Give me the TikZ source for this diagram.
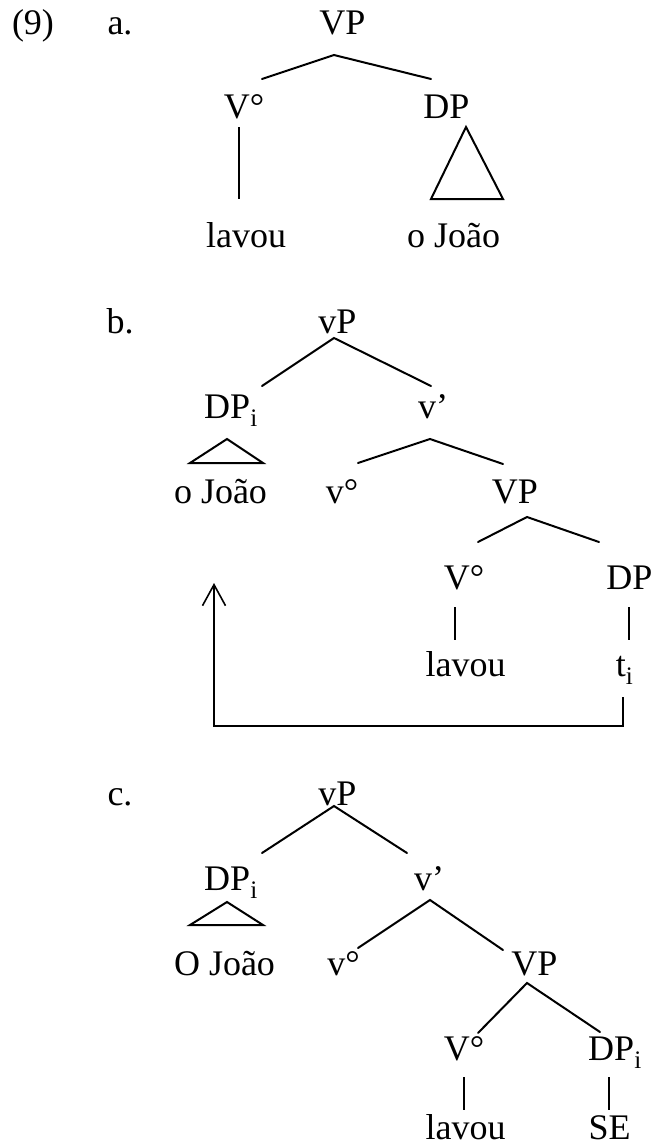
\documentclass[tikz,border=0pt]{standalone}
\usepackage{fontspec}
\setmainfont{Liberation Serif}
\usetikzlibrary{arrows.meta}
\begin{document}
\begin{tikzpicture}[x=1pt, y=-1pt,
  lbl/.style={anchor=base, inner sep=0pt, font=\fontsize{36}{40}\selectfont},
  branch/.style={line width=2pt, line cap=round},
  stem/.style={line width=1.4pt},
  roof/.style={line width=2pt, line join=miter},
  movearrow/.style={line width=1.6pt, -{Straight Barb[length=21pt, width=23pt, line width=1.6pt]}}]
\useasboundingbox (0,0) rectangle (653,1148);

% ---------- (9) a. ----------
\node[lbl] (ex) at (33,35) {(9)};
\node[lbl] (la) at (120,35) {a.};
\node[lbl] (aVP) at (342.5,35) {VP};
\node[lbl] (aV) at (244,118) {V°};
\node[lbl] (aDP) at (446.5,118) {DP};
\node[lbl] (aVw) at (246,247) {lavou};
\node[lbl] (aDPw) at (453.5,247) {o João};

\coordinate (aVPb) at (334,55);
\coordinate (aVt) at (262,79);
\coordinate (aDPt) at (431,79);
\draw[branch] (aVt) -- (aVPb) -- (aDPt);
\coordinate (aVs) at (239,127);
\coordinate (aVe) at (239,199);
\draw[stem] (aVs) -- (aVe);
\coordinate (aT1) at (466,127);
\coordinate (aT2) at (431,199);
\coordinate (aT3) at (503,199);
\draw[roof] (aT1) -- (aT2) -- (aT3) -- cycle;

% ---------- b. ----------
\node[lbl] (lb) at (120,333) {b.};
\node[lbl] (bvP) at (337.5,333) {vP};
\node[lbl] (bDP) at (231,418) {DP\textsubscript{i}};
\node[lbl] (bvbar) at (433,418) {v’};
\node[lbl] (bDPw) at (220.5,503) {o João};
\node[lbl] (bv) at (342,503) {v°};
\node[lbl] (bVP) at (515,503) {VP};
\node[lbl] (bV) at (464,589) {V°};
\node[lbl] (bDP2) at (629.5,589) {DP};
\node[lbl] (bVw) at (465.5,676) {lavou};
\node[lbl] (bt) at (624.5,676) {t\textsubscript{i}};

\coordinate (bvPb) at (334,338);
\coordinate (bDPt) at (262,386);
\coordinate (bvbart) at (431,386);
\draw[branch] (bDPt) -- (bvPb) -- (bvbart);
\coordinate (bT1) at (227,439);
\coordinate (bT2) at (190,463);
\coordinate (bT3) at (263,463);
\draw[roof] (bT1) -- (bT2) -- (bT3) -- cycle;
\coordinate (bvbarb) at (430,439);
\coordinate (bvt) at (358,463);
\coordinate (bVPt) at (503,464);
\draw[branch] (bvt) -- (bvbarb) -- (bVPt);
\coordinate (bVPb) at (527,517);
\coordinate (bVt) at (478,542);
\coordinate (bDP2t) at (599,542);
\draw[branch] (bVt) -- (bVPb) -- (bDP2t);
\coordinate (bVs) at (455,607);
\coordinate (bVe) at (455,640);
\draw[stem] (bVs) -- (bVe);
\coordinate (bDs) at (629,607);
\coordinate (bDe) at (629,640);
\draw[stem] (bDs) -- (bDe);
% movement of the object to the specifier of vP
\coordinate (mvA) at (623,697);
\coordinate (mvB) at (623,726);
\coordinate (mvC) at (214,726);
\coordinate (mvD) at (214,583);
\draw[movearrow] (mvA) -- (mvB) -- (mvC) -- (mvD);

% ---------- c. ----------
\node[lbl] (lc) at (120,805) {c.};
\node[lbl] (cvP) at (337.5,805) {vP};
\node[lbl] (cDP) at (231,890) {DP\textsubscript{i}};
\node[lbl] (cvbar) at (429,890) {v’};
\node[lbl] (cDPw) at (224.5,975) {O João};
\node[lbl] (cv) at (343.5,975) {v°};
\node[lbl] (cVP) at (534.5,975) {VP};
\node[lbl] (cV) at (464,1060) {V°};
\node[lbl] (cDP2) at (615,1060) {DP\textsubscript{i}};
\node[lbl] (cVw) at (465.5,1139) {lavou};
\node[lbl] (cSE) at (609.5,1139) {SE};

\coordinate (cvPb) at (334,806);
\coordinate (cDPt) at (262,853);
\coordinate (cvbart) at (407,853);
\draw[branch] (cDPt) -- (cvPb) -- (cvbart);
\coordinate (cT1) at (227,902);
\coordinate (cT2) at (190,925);
\coordinate (cT3) at (263,925);
\draw[roof] (cT1) -- (cT2) -- (cT3) -- cycle;
\coordinate (cvbarb) at (430,900);
\coordinate (cvt) at (358,948);
\coordinate (cVPt) at (503,950);
\draw[branch] (cvt) -- (cvbarb) -- (cVPt);
\coordinate (cVPb) at (527,983);
\coordinate (cVt) at (478,1033);
\coordinate (cDP2t) at (600,1032);
\draw[branch] (cVt) -- (cVPb) -- (cDP2t);
\coordinate (cVs) at (464,1077);
\coordinate (cVe) at (464,1110);
\draw[stem] (cVs) -- (cVe);
\coordinate (cDs) at (609,1077);
\coordinate (cDe) at (609,1110);
\draw[stem] (cDs) -- (cDe);
\end{tikzpicture}
\end{document}
